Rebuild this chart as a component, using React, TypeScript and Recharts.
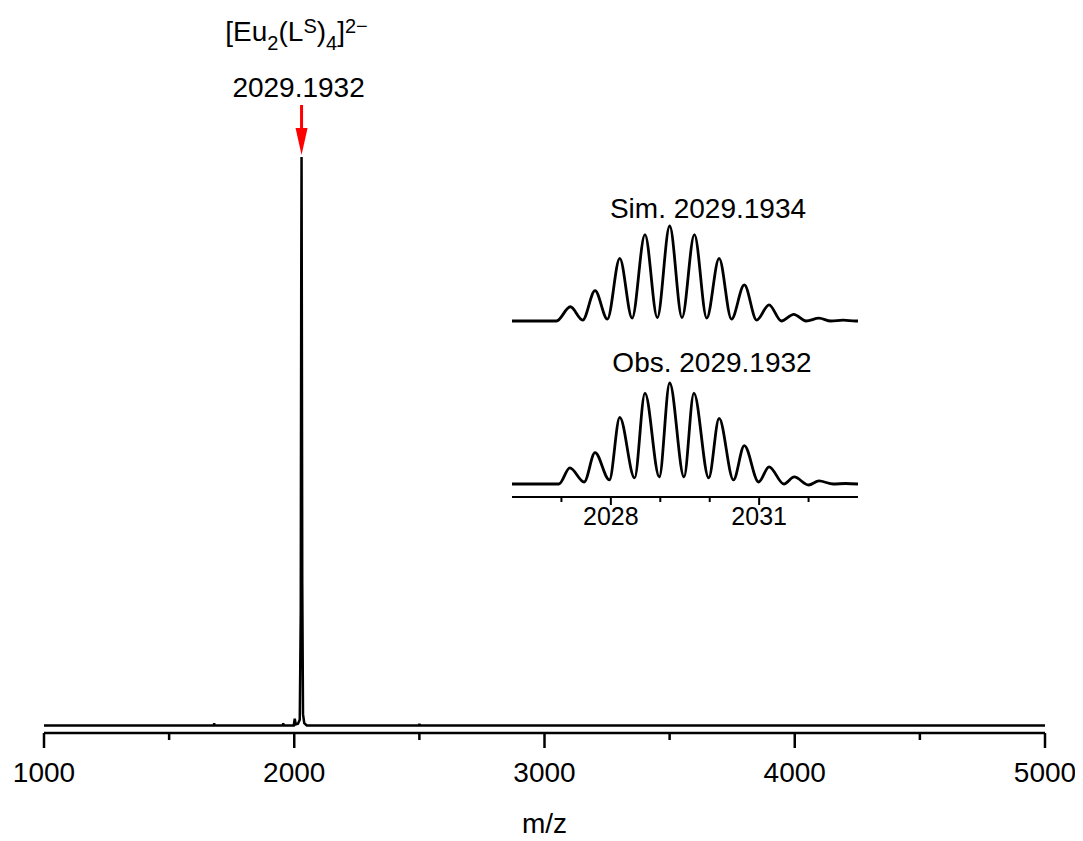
import React from "react";
import { LineChart, Line, XAxis, YAxis, ReferenceLine } from "recharts";

const FONT = '"Liberation Sans", Arial, sans-serif';

// full spectrum: m/z and relative intensity
const mainMz = [1000, 1679, 1680, 1681, 1955, 1956, 1957, 1998, 2002, 2006, 2015, 2022, 2026, 2028, 2029.2, 2030, 2032, 2035, 2040, 2050, 2499, 2500, 2501, 5000];
const mainInt = [0, 0, 0.004, 0, 0, 0.004, 0, 0, 0.012, 0.002, 0.003, 0.01, 0.2, 0.8, 1.0, 0.8, 0.25, 0.02, 0.004, 0, 0, 0.003, 0, 0];

// inset: simulated isotope pattern
const simMz = [2026.0, 2026.9, 2027.18, 2027.43, 2027.68, 2027.93, 2028.18, 2028.43, 2028.69, 2028.94, 2029.19, 2029.44, 2029.69, 2029.94, 2030.19, 2030.44, 2030.7, 2030.95, 2031.2, 2031.45, 2031.7, 2031.95, 2032.21, 2032.45, 2032.7, 2032.95, 2033.0];
const simInt = [0, 0, 0.15, 0.01, 0.32, 0.02, 0.66, 0.03, 0.91, 0.035, 1.0, 0.035, 0.91, 0.03, 0.66, 0.02, 0.38, 0.01, 0.17, 0, 0.07, 0, 0.03, 0, 0.01, 0, 0];

// inset: observed isotope pattern
const obsMz = [2026.0, 2026.95, 2027.17, 2027.46, 2027.68, 2027.97, 2028.18, 2028.48, 2028.69, 2028.98, 2029.19, 2029.48, 2029.68, 2029.98, 2030.19, 2030.48, 2030.7, 2030.99, 2031.2, 2031.5, 2031.71, 2032.0, 2032.21, 2032.5, 2032.75, 2033.0];
const obsInt = [0, 0, 0.16, 0.02, 0.31, 0.04, 0.66, 0.06, 0.9, 0.07, 1.0, 0.07, 0.9, 0.06, 0.65, 0.04, 0.38, 0.02, 0.17, 0.0, 0.07, -0.01, 0.03, 0.0, 0.005, 0];

const mainTicks = [1000, 1500, 2000, 2500, 3000, 3500, 4000, 4500, 5000];
const insetTicks = [2027, 2028, 2029, 2030, 2031, 2032];
const insetLabelled = [2028, 2031];

const peakMz = 2029.19;
const peakLabel = "2029.1932";
const simLabel = "Sim. 2029.1934";
const obsLabel = "Obs. 2029.1932";

const mainData = mainMz.map((mz, i) => ({ mz, v: mainInt[i] }));
const simData = simMz.map((mz, i) => ({ mz, v: simInt[i] }));
const obsData = obsMz.map((mz, i) => ({ mz, v: obsInt[i] }));

const MainTick = (props: any) => {
  const { x, y, payload } = props;
  const major = payload.value % 1000 === 0;
  return (
    <g>
      <line x1={x} y1={y} x2={x} y2={y + (major ? 15 : 7)} stroke="#000" strokeWidth={2.5} />
      {major && (
        <text x={x} y={y + 49} textAnchor="middle" fontSize={28} fontFamily={FONT} fill="#000">
          {payload.value}
        </text>
      )}
    </g>
  );
};

const InsetTick = (props: any) => {
  const { x, y, payload } = props;
  const major = insetLabelled.includes(payload.value);
  return (
    <g>
      <line x1={x} y1={y} x2={x} y2={y + (major ? 8 : 5)} stroke="#000" strokeWidth={2} />
      {major && (
        <text x={x} y={y + 28} textAnchor="middle" fontSize={25} fontFamily={FONT} fill="#000">
          {payload.value}
        </text>
      )}
    </g>
  );
};

const ArrowShape = (props: any) => {
  const { x1, y1, x2, y2 } = props;
  const head = 27;
  return (
    <g>
      <line x1={x1} y1={y1} x2={x2} y2={y2 - head + 2} stroke="#ff0000" strokeWidth={3} />
      <polygon points={`${x2 - 6},${y2 - head} ${x2 + 6},${y2 - head} ${x2},${y2}`} fill="#ff0000" />
      <text x={x1 - 3} y={y1 - 8} textAnchor="middle" fontSize={28} fontFamily={FONT} fill="#000">
        {peakLabel}
      </text>
      <text x={x1 - 5} y={y1 - 64} textAnchor="middle" fontSize={28} fontFamily={FONT} fill="#000">
        [Eu
        <tspan fontSize={20} dy={9}>2</tspan>
        <tspan dy={-9}>(L</tspan>
        <tspan fontSize={20} dy={-8}>S</tspan>
        <tspan dy={8}>)</tspan>
        <tspan fontSize={20} dy={9}>4</tspan>
        <tspan dy={-9}>]</tspan>
        <tspan fontSize={20} dy={-8}>2−</tspan>
      </text>
    </g>
  );
};

const titleStyle: React.CSSProperties = {
  position: "absolute",
  width: 300,
  textAlign: "center",
  fontFamily: FONT,
  fontSize: 28,
  lineHeight: "28px",
  color: "#000",
  whiteSpace: "nowrap",
};

export default function App() {
  return (
    <div style={{ position: "relative", width: 1075, height: 833 }}>
      <LineChart width={1075} height={833} margin={{ top: 12, right: 38, bottom: 4, left: 36 }}>
        <XAxis
          dataKey="mz"
          type="number"
          domain={[1000, 5000]}
          allowDataOverflow
          ticks={mainTicks}
          interval={0}
          height={104}
          tickSize={0}
          tickMargin={0}
          tickLine={false}
          tick={<MainTick />}
          axisLine={{ stroke: "#000", strokeWidth: 2.5 }}
          label={{ value: "m/z", position: "insideBottom", offset: 4, fontSize: 28, fontFamily: FONT, fill: "#000" }}
        />
        <YAxis hide type="number" domain={[-0.0132, 1.241]} allowDataOverflow />
        <Line
          data={mainData}
          dataKey="v"
          type="linear"
          stroke="#000"
          strokeWidth={2.5}
          dot={false}
          isAnimationActive={false}
        />
        <ReferenceLine
          segment={[
            { x: peakMz, y: 1.0915 },
            { x: peakMz, y: 1.0035 },
          ]}
          ifOverflow="visible"
          shape={ArrowShape}
        />
      </LineChart>

      <div style={{ position: "absolute", left: 494, top: 192 }}>
        <LineChart width={366} height={337} margin={{ top: 20, right: 10, bottom: 0, left: 10 }}>
          <XAxis
            dataKey="mz"
            type="number"
            domain={[2026, 2033]}
            allowDataOverflow
            ticks={insetTicks}
            interval={0}
            height={40}
            tickSize={0}
            tickMargin={0}
            tickLine={false}
            tick={<InsetTick />}
            axisLine={{ stroke: "#000", strokeWidth: 2 }}
          />
          <YAxis yAxisId="sim" hide type="number" domain={[-1.8526, 1.0632]} allowDataOverflow />
          <YAxis yAxisId="obs" hide type="number" domain={[-0.1287, 2.614]} allowDataOverflow />
          <Line
            yAxisId="sim"
            data={simData}
            dataKey="v"
            type="monotone"
            stroke="#000"
            strokeWidth={2.8}
            dot={false}
            isAnimationActive={false}
          />
          <Line
            yAxisId="obs"
            data={obsData}
            dataKey="v"
            type="monotone"
            stroke="#000"
            strokeWidth={2.8}
            dot={false}
            isAnimationActive={false}
          />
        </LineChart>
      </div>

      <div style={{ ...titleStyle, left: 700 - 150, top: 187 }}>{simLabel}</div>
      <div style={{ ...titleStyle, left: 704 - 150, top: 341 }}>{obsLabel}</div>
    </div>
  );
}
